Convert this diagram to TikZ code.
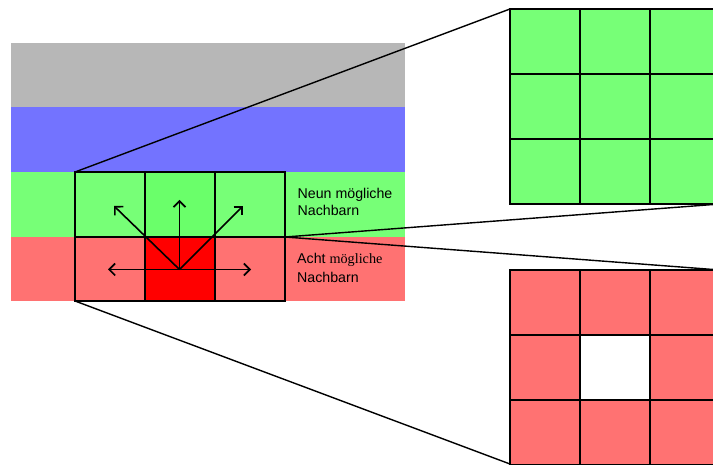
\documentclass[tikz,border=0pt]{standalone}
\usepackage{fontspec}
\setmainfont{Liberation Sans}
\newfontfamily\serifpart{Liberation Serif}
\usetikzlibrary{arrows.meta}
\definecolor{bandgray}{HTML}{B7B7B7}
\definecolor{bandblue}{HTML}{7373FF}
\definecolor{bandgreen}{HTML}{77FF77}
\definecolor{midgreen}{HTML}{6AFF6A}
\definecolor{bandred}{HTML}{FF7272}
\definecolor{hotred}{HTML}{FF0000}
\tikzset{
  cell/.style={draw=black, line width=1.5pt},
  zoomline/.style={draw=black, line width=1.4pt},
  move/.style={-{Straight Barb[length=6pt,width=12pt]}, line width=1.6pt},
  label/.style={anchor=base west, inner sep=0pt, font=\fontsize{14.2pt}{17pt}\selectfont},
}
\begin{document}
\begin{tikzpicture}[x=1pt,y=-1pt]
\useasboundingbox (0,0) rectangle (713,465);

% horizontal colour bands
\fill[bandgray]  (11,43)  rectangle (405,107);
\fill[bandblue]  (11,107) rectangle (405,172);
\fill[bandgreen] (11,172) rectangle (405,237);
\fill[bandred]   (11,237) rectangle (405,301);

% corners of the small 3x2 grid
\coordinate (gTL) at (75,172);
\coordinate (gMR) at (285,237);
\coordinate (gBL) at (75,301);

% small grid: green row and red row
\fill[midgreen] (145,172) rectangle (215,237);
\fill[hotred]   (145,237) rectangle (215,301);
\foreach \x in {75,145,215} {
  \draw[cell] (\x,172) rectangle ++(70,65);
  \draw[cell] (\x,237) rectangle ++(70,64);
}

% moves from the centre of the red cell
\coordinate (c) at (179.5,269.5);
\coordinate (tUL) at (114,206);
\coordinate (tU)  at (179.5,200);
\coordinate (tUR) at (243,206);
\coordinate (tL)  at (108,269.5);
\coordinate (tR)  at (251,269.5);
\foreach \t in {tUL,tU,tUR,tL,tR} \draw[move] (c) -- (\t);

% labels
\node[label] (n1) at (297.5,198.5) {Neun mögliche};
\node[label] (n2) at (297.5,216)   {Nachbarn};
\node[label] (a1) at (297,264)     {Acht {\serifpart mögliche}};
\node[label] (a2) at (297,282.5)   {Nachbarn};

% enlarged green 3x3 neighbourhood
\coordinate (zgTL) at (510,9);
\coordinate (zgBR) at (720,204);
\fill[bandgreen] (zgTL) rectangle (zgBR);
\foreach \i in {0,1,2} \foreach \j in {0,1,2}
  \draw[cell] (510+70*\i,9+65*\j) rectangle ++(70,65);

% enlarged red 3x3 neighbourhood with empty centre
\coordinate (zrTR) at (720,270);
\coordinate (zrBL) at (510,464);
\fill[bandred] (510,270) rectangle (720,464);
\fill[white] (580,335) rectangle (650,400);
\foreach \i in {0,1,2} \foreach \j in {0,1,2}
  \draw[cell] (510+70*\i,270+65*\j) rectangle ++(70,65);

% zoom lines
\draw[zoomline] (gTL) -- (zgTL);
\draw[zoomline] (gMR) -- (zgBR);
\draw[zoomline] (gMR) -- (zrTR);
\draw[zoomline] (gBL) -- (zrBL);
\end{tikzpicture}
\end{document}
